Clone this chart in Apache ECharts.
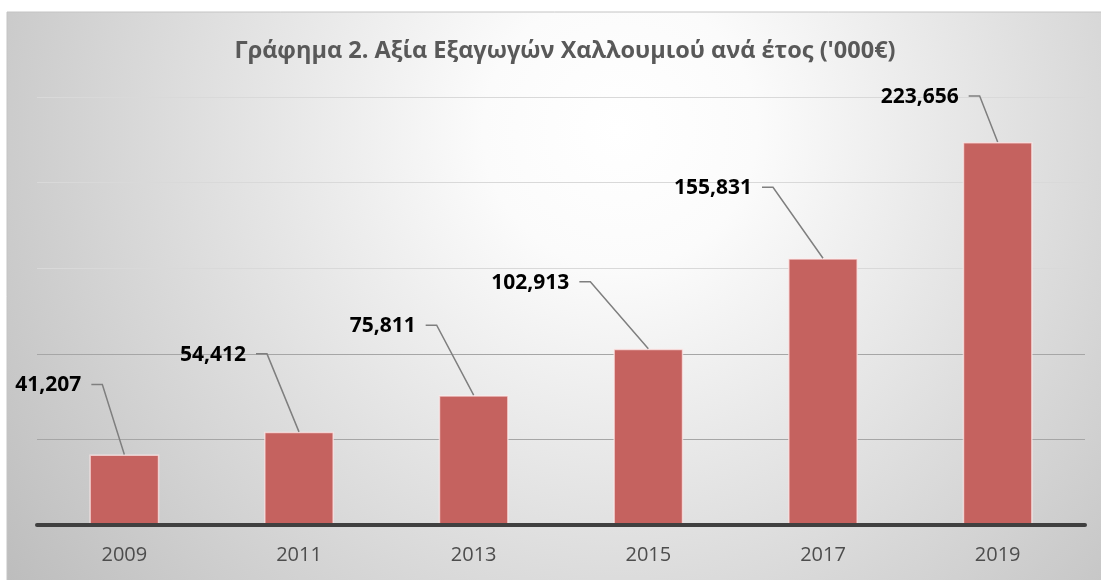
<!DOCTYPE html>
<html>
<head>
    <meta charset="utf-8" />
    <title>Γράφημα 2</title>
    <script src="https://cdn.jsdelivr.net/npm/echarts@6/dist/echarts.min.js"></script>
    <style>
        html, body { margin: 0; padding: 0; background: #fff; }
        #chart { width: 1101px; height: 580px; }
    </style>
</head>
<body>
    <div id="chart"></div>
    <script>
        // data
        var years = ['2009', '2011', '2013', '2015', '2017', '2019'];
        var exportValues = [41207, 54412, 75811, 102913, 155831, 223656];
        var yMax = 250000;
        var yStep = 50000;

        // where each label sits, relative to the top of its bar (layout only)
        var labelShift = [[-22, -70], [-32, -78], [-37, -70], [-58, -67], [-50, -71], [-18, -46]];

        var chart = echarts.init(document.getElementById('chart'));

        function fmt(v) {
            return v.toString().replace(/\B(?=(\d{3})+(?!\d))/g, ',');
        }

        var option = {
            animation: false,
            graphic: [{
                type: 'rect',
                z: -10,
                silent: true,
                shape: { x: 7, y: 12, width: 1100, height: 575 },
                style: {
                    fill: {
                        type: 'radial', x: 620, y: 130, r: 760, global: true,
                        colorStops: [
                            { offset: 0, color: '#ffffff' },
                            { offset: 0.18, color: '#fbfbfb' },
                            { offset: 1, color: '#bdbdbd' }
                        ]
                    },
                    stroke: '#c4c4c4',
                    lineWidth: 1
                }
            }],
            title: {
                text: "Γράφημα 2. Αξία Εξαγωγών Χαλλουμιού ανά έτος ('000€)",
                left: 560,
                top: 34,
                textAlign: 'center',
                textStyle: {
                    fontFamily: 'Open Sans',
                    fontWeight: 'bold',
                    fontSize: 23.5,
                    color: '#595959'
                }
            },
            grid: { left: 37, right: 16, top: 97, bottom: 55 },
            xAxis: {
                type: 'category',
                data: years,
                z: 5,
                axisTick: { show: false },
                axisLine: { lineStyle: { color: '#404040', width: 4 } },
                axisLabel: {
                    margin: 20,
                    fontFamily: 'Open Sans',
                    fontSize: 20,
                    color: '#4d4d4d'
                }
            },
            yAxis: {
                type: 'value',
                min: 0,
                max: yMax,
                interval: yStep,
                axisLabel: { show: false },
                axisLine: { show: false },
                axisTick: { show: false },
                splitLine: {
                    lineStyle: {
                        color: ['#a6a6a6', '#a6a6a6', '#a6a6a6', '#d9d9d9', '#d9d9d9', '#d9d9d9'],
                        width: 1
                    }
                }
            },
            series: [{
                type: 'bar',
                data: exportValues,
                barWidth: '40%',
                itemStyle: {
                    color: '#c5625f',
                    borderColor: 'rgba(255,235,235,0.7)',
                    borderWidth: 1.5
                }
            }, {
                type: 'custom',
                data: exportValues.map(function (v, i) { return [i, v]; }),
                z: 4,
                renderItem: function (params, api) {
                    var p = api.coord([api.value(0), api.value(1)]);
                    var s = labelShift[params.dataIndex];
                    var hx = p[0] + s[0], hy = p[1] + s[1];
                    return {
                        type: 'group',
                        children: [{
                            type: 'polyline',
                            shape: { points: [[hx - 11, hy], [hx, hy], [p[0], p[1]]] },
                            style: { stroke: '#7f7f7f', lineWidth: 1.5, fill: null }
                        }, {
                            type: 'text',
                            style: {
                                x: hx - 21,
                                y: hy + 1,
                                text: fmt(api.value(1)),
                                align: 'right',
                                verticalAlign: 'middle',
                                fontFamily: 'Open Sans',
                                fontWeight: 'bold',
                                fontSize: 21,
                                fill: '#000'
                            }
                        }]
                    };
                }
            }]
        };
        chart.setOption(option);
    </script>
</body>
</html>
